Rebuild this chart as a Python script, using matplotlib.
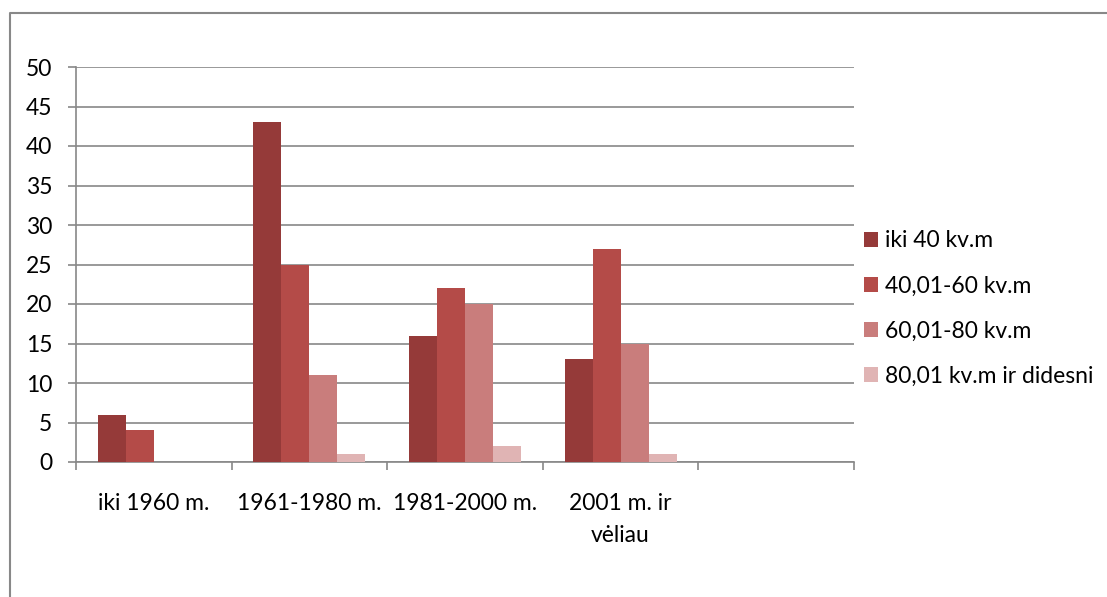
import numpy as np
import matplotlib.pyplot as plt
from matplotlib.lines import Line2D

categories = ['iki 1960 m.', '1961-1980 m.', '1981-2000 m.', '2001 m. ir\nvėliau', '']
series_names = ['iki 40 kv.m', '40,01-60 kv.m', '60,01-80 kv.m', '80,01 kv.m ir didesni']
iki40 = [6, 43, 16, 13, 0]
s40_60 = [4, 25, 22, 27, 0]
s60_80 = [0, 11, 20, 15, 0]
s80_plus = [0, 1, 2, 1, 0]
colors = ['#953A39', '#B44B48', '#C97D7C', '#E0B4B4']

plt.rcParams['font.family'] = ['Lato', 'DejaVu Sans']
FS = 16.5
GRID = '#888888'

fig = plt.figure(figsize=(11.07, 5.97), dpi=100)
ax = fig.add_axes([76/1107, 1-462/597, (854-76)/1107, (462-67)/597])

x = np.arange(len(categories))
w = 0.18
for j, (vals, name) in enumerate(zip([iki40, s40_60, s60_80, s80_plus], series_names)):
    ax.bar(x + (j-1.5)*w, vals, w, color=colors[j], label=name, zorder=3)

ax.set_xlim(-0.5, len(categories)-0.5)
ax.set_ylim(0, 50)
ax.set_yticks(np.arange(0, 51, 5))
ax.yaxis.grid(True, color=GRID, linewidth=1.2, zorder=0)
ax.tick_params(axis='y', length=6, width=1.2, color=GRID, pad=11, labelsize=FS)

ax.set_xticks(x)
ax.set_xticklabels(categories, fontsize=FS, linespacing=1.7)
ax.set_xticks(np.arange(len(categories)+1) - 0.5, minor=True)
ax.tick_params(axis='x', which='major', length=0, pad=22)
ax.tick_params(axis='x', which='minor', length=6, width=1.2, color=GRID)

for s in ['top', 'right']:
    ax.spines[s].set_visible(False)
for s in ['left', 'bottom']:
    ax.spines[s].set_color(GRID)
    ax.spines[s].set_linewidth(1.2)

ax.legend(loc='center left', bbox_to_anchor=(864/1107, 1-308.5/597),
          bbox_transform=fig.transFigure, frameon=False, fontsize=FS,
          handlelength=0.6, handleheight=0.6, handletextpad=0.3,
          labelspacing=1.05, borderpad=0, borderaxespad=0)

# outer chart border (left and top)
fig.add_artist(Line2D([9.5/1107, 9.5/1107, 1], [0, 1-12.5/597, 1-12.5/597],
                      transform=fig.transFigure, color=GRID, linewidth=1.5))

fig.savefig('out.png', dpi=100)
